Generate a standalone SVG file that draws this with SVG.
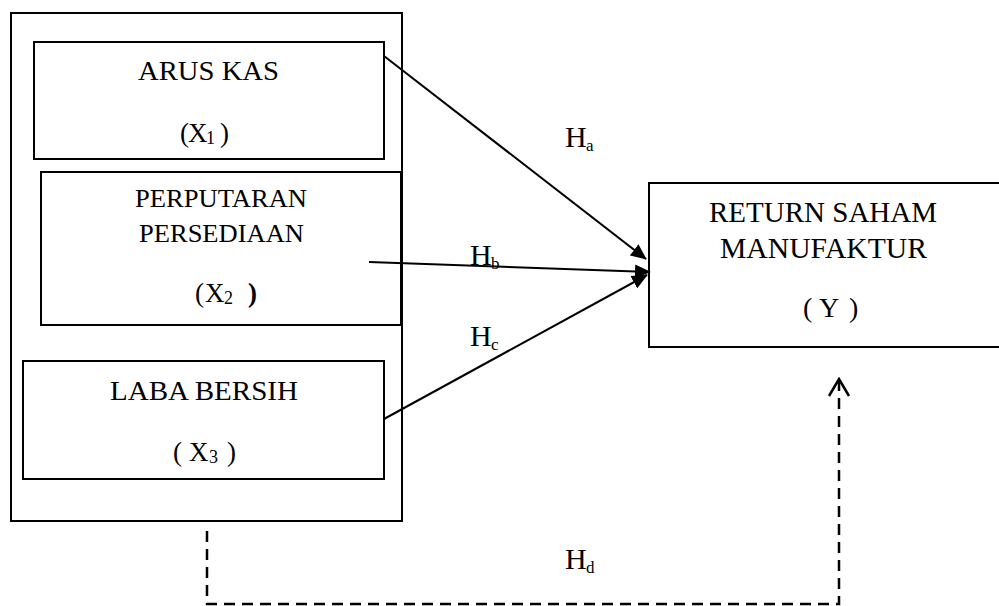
<svg xmlns="http://www.w3.org/2000/svg" width="999" height="606" viewBox="0 0 999 606">
<style>
.box{fill:none;stroke:#000;stroke-width:2}
.t{font-family:"Liberation Serif","Times New Roman",serif;fill:#000}
.con{stroke:#000;stroke-width:2;fill:none}
.dash{stroke:#000;stroke-width:2.5;fill:none;stroke-dasharray:11 7}
</style>
<defs>
<marker id="ah" markerUnits="userSpaceOnUse" viewBox="0 0 16 14" markerWidth="16" markerHeight="14" refX="15" refY="7" orient="auto">
<path d="M0,0 L16,7 L0,14 z" fill="#000"/>
</marker>
<marker id="oh" markerUnits="userSpaceOnUse" viewBox="0 0 20 24" markerWidth="20" markerHeight="24" refX="18" refY="12" orient="auto">
<path d="M1,2 L18,12 L1,22" fill="none" stroke="#000" stroke-width="2.5"/>
</marker>
</defs>
<rect width="999" height="606" fill="#fff"/>
<g id="group-x">
<rect class="box" x="11" y="13" width="391" height="508"/>
</g>
<g id="x1">
<rect class="box" x="34" y="42" width="350" height="117"/>
<text class="t" x="138" y="80" font-size="27" textLength="141" lengthAdjust="spacingAndGlyphs">ARUS KAS</text>
<text class="t" y="142" font-size="27"><tspan x="180">(</tspan><tspan x="188">X</tspan><tspan x="206" y="144" font-size="18">1</tspan><tspan x="220" y="142">)</tspan></text>
</g>
<g id="x2">
<rect class="box" x="41" y="172" width="360" height="153"/>
<text class="t" x="135" y="207" font-size="25" textLength="172" lengthAdjust="spacingAndGlyphs">PERPUTARAN</text>
<text class="t" x="139" y="242" font-size="25" textLength="165" lengthAdjust="spacingAndGlyphs">PERSEDIAAN</text>
<text class="t" y="302" font-size="27"><tspan x="195">(</tspan><tspan x="205">X</tspan><tspan x="224" y="304" font-size="18">2</tspan><tspan x="248" y="302" font-weight="bold">)</tspan></text>
</g>
<g id="x3">
<rect class="box" x="23" y="361" width="361" height="118"/>
<text class="t" x="110" y="400" font-size="28" textLength="188" lengthAdjust="spacingAndGlyphs">LABA BERSIH</text>
<text class="t" y="461" font-size="27"><tspan x="173">(</tspan><tspan x="189">X</tspan><tspan x="209" y="463" font-size="18">3</tspan><tspan x="227" y="461">)</tspan></text>
</g>
<g id="y">
<rect class="box" x="649" y="183" width="360" height="164"/>
<text class="t" x="709" y="222" font-size="29" textLength="228" lengthAdjust="spacingAndGlyphs">RETURN SAHAM</text>
<text class="t" x="720" y="258" font-size="29" textLength="207" lengthAdjust="spacingAndGlyphs">MANUFAKTUR</text>
<text class="t" y="317" font-size="28"><tspan x="803">(</tspan><tspan x="819">Y</tspan><tspan x="849">)</tspan></text>
</g>
<g id="connectors">
<line class="con" x1="384" y1="56" x2="646" y2="259" marker-end="url(#ah)"/>
<line class="con" x1="369" y1="262" x2="650" y2="272" marker-end="url(#ah)"/>
<line class="con" x1="384" y1="419" x2="647" y2="275" marker-end="url(#ah)"/>
<polyline class="dash" points="207,531 207,604 839,604 839,379" marker-end="url(#oh)"/>
</g>
<g id="labels">
<text class="t" y="147" font-size="30"><tspan x="565">H</tspan><tspan x="586" y="151" font-size="17">a</tspan></text>
<text class="t" y="265" font-size="30"><tspan x="470">H</tspan><tspan x="491" y="269" font-size="17">b</tspan></text>
<text class="t" y="346" font-size="30"><tspan x="470">H</tspan><tspan x="491" y="350" font-size="17">c</tspan></text>
<text class="t" y="569" font-size="30"><tspan x="565">H</tspan><tspan x="586" y="573" font-size="17">d</tspan></text>
</g>
</svg>
